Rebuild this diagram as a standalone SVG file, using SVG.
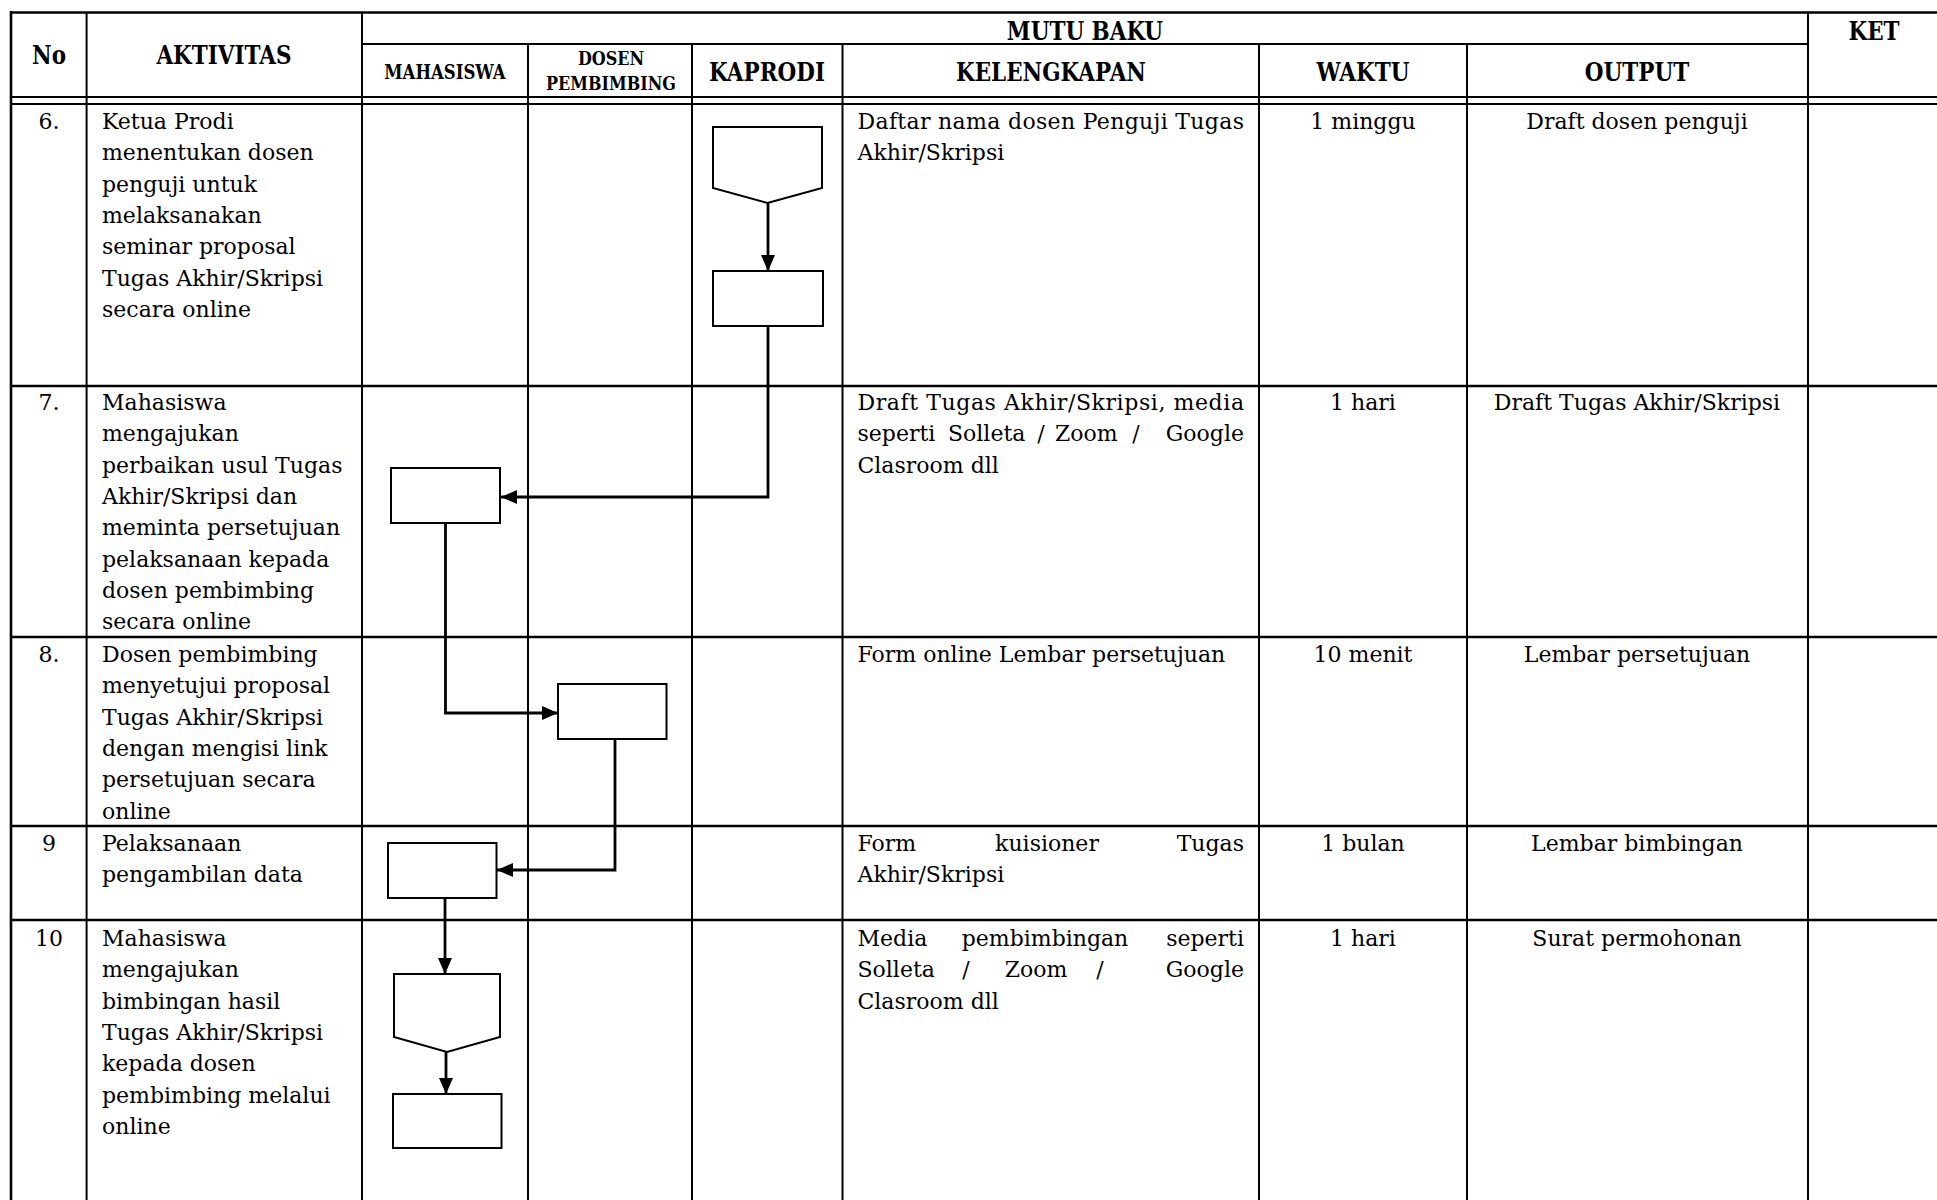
<svg xmlns="http://www.w3.org/2000/svg" width="1937" height="1200" viewBox="0 0 1937 1200">
<defs>
<style>
.bg{fill:#fff}
.ln{stroke:#000;stroke-width:2;fill:none}
.lt{stroke:#000;stroke-width:2.6;fill:none}
.sh{stroke:#000;stroke-width:2;fill:#fff}
.cn{stroke:#000;stroke-width:2.8;fill:none}
.t{font-family:"DejaVu Serif","Liberation Serif",serif;font-size:22px;fill:#000}
.m{text-anchor:middle}
.e{text-anchor:end}
.h{font-family:"DejaVu Serif","Liberation Serif",serif;font-weight:bold;font-size:21.5px;fill:#000;text-anchor:middle}
.hs{font-size:16px}
</style>
<marker id="arr" markerUnits="userSpaceOnUse" markerWidth="16" markerHeight="14" refX="16" refY="7" orient="auto">
<path d="M0,0 L16,7 L0,14 Z" fill="#000"/>
</marker>
</defs>
<rect class="bg" x="0" y="0" width="1937" height="1200"/>

<g id="grid">
<line class="lt" x1="11" y1="12.5" x2="1937" y2="12.5"/>
<line class="ln" x1="362" y1="44" x2="1808" y2="44"/>
<line class="ln" x1="11" y1="97" x2="1937" y2="97"/>
<line class="ln" x1="11" y1="104" x2="1937" y2="104"/>
<line class="lt" x1="11" y1="386" x2="1937" y2="386"/>
<line class="lt" x1="11" y1="637" x2="1937" y2="637"/>
<line class="lt" x1="11" y1="826" x2="1937" y2="826"/>
<line class="lt" x1="11" y1="920" x2="1937" y2="920"/>
<line class="lt" x1="11" y1="11" x2="11" y2="1200"/>
<line class="ln" x1="86.6" y1="12" x2="86.6" y2="1200"/>
<line class="ln" x1="362" y1="12" x2="362" y2="1200"/>
<line class="ln" x1="528" y1="44" x2="528" y2="1200"/>
<line class="ln" x1="692" y1="44" x2="692" y2="1200"/>
<line class="ln" x1="842.5" y1="44" x2="842.5" y2="1200"/>
<line class="ln" x1="1259" y1="44" x2="1259" y2="1200"/>
<line class="ln" x1="1467" y1="44" x2="1467" y2="1200"/>
<line class="ln" x1="1808" y1="12" x2="1808" y2="1200"/>
</g>

<g id="header">
<text class="h" x="1085" y="40.5" transform="matrix(1 0 0 1.2 0 -8.1)">MUTU BAKU</text>
<text class="h" x="1874" y="40.5" transform="matrix(1 0 0 1.2 0 -8.1)">KET</text>
<text class="h" x="49" y="64.5" transform="matrix(1 0 0 1.2 0 -12.9)">No</text>
<text class="h" x="224" y="64.5" transform="matrix(1 0 0 1.2 0 -12.9)">AKTIVITAS</text>
<text class="h hs" x="445" y="79" style="font-size:16.5px" transform="matrix(1 0 0 1.2 0 -15.8)">MAHASISWA</text>
<text class="h hs" x="611" y="65" transform="matrix(1 0 0 1.2 0 -13)">DOSEN</text>
<text class="h hs" x="611" y="90" transform="matrix(1 0 0 1.2 0 -18)">PEMBIMBING</text>
<text class="h" x="767" y="81" transform="matrix(1 0 0 1.2 0 -16.2)">KAPRODI</text>
<text class="h" x="1051" y="81" transform="matrix(1 0 0 1.2 0 -16.2)">KELENGKAPAN</text>
<text class="h" x="1363" y="81" transform="matrix(1 0 0 1.2 0 -16.2)">WAKTU</text>
<text class="h" x="1637" y="81" transform="matrix(1 0 0 1.2 0 -16.2)">OUTPUT</text>
</g>

<g id="row6">
<text class="t m" x="49" y="129">6.</text>
<text class="t" x="102" y="129">Ketua Prodi</text>
<text class="t" x="102" y="160.3">menentukan dosen</text>
<text class="t" x="102" y="191.6">penguji untuk</text>
<text class="t" x="102" y="222.9">melaksanakan</text>
<text class="t" x="102" y="254.2">seminar proposal</text>
<text class="t" x="102" y="285.5">Tugas Akhir/Skripsi</text>
<text class="t" x="102" y="316.8">secara online</text>
<text class="t" x="857.5" y="129" textLength="386.5" lengthAdjust="spacing">Daftar nama dosen Penguji Tugas</text>
<text class="t" x="857.5" y="160.3">Akhir/Skripsi</text>
<text class="t m" x="1363" y="129">1 minggu</text>
<text class="t m" x="1637" y="129">Draft dosen penguji</text>
</g>

<g id="row7">
<text class="t m" x="49" y="410">7.</text>
<text class="t" x="102" y="410">Mahasiswa</text>
<text class="t" x="102" y="441.3">mengajukan</text>
<text class="t" x="102" y="472.6">perbaikan usul Tugas</text>
<text class="t" x="102" y="503.9">Akhir/Skripsi dan</text>
<text class="t" x="102" y="535.2">meminta persetujuan</text>
<text class="t" x="102" y="566.5">pelaksanaan kepada</text>
<text class="t" x="102" y="597.8">dosen pembimbing</text>
<text class="t" x="102" y="629.1">secara online</text>
<text class="t" x="857.5" y="410" textLength="386.5" lengthAdjust="spacing">Draft Tugas Akhir/Skripsi, media</text>
<text class="t" x="857.5" y="441.3">seperti</text>
<text class="t" x="948" y="441.3">Solleta</text>
<text class="t m" x="1041" y="441.3">/</text>
<text class="t" x="1055" y="441.3">Zoom</text>
<text class="t m" x="1136" y="441.3">/</text>
<text class="t e" x="1244" y="441.3">Google</text>
<text class="t" x="857.5" y="472.6">Clasroom dll</text>
<text class="t m" x="1363" y="410">1 hari</text>
<text class="t m" x="1637" y="410">Draft Tugas Akhir/Skripsi</text>
</g>

<g id="row8">
<text class="t m" x="49" y="662">8.</text>
<text class="t" x="102" y="662">Dosen pembimbing</text>
<text class="t" x="102" y="693.3">menyetujui proposal</text>
<text class="t" x="102" y="724.6">Tugas Akhir/Skripsi</text>
<text class="t" x="102" y="755.9">dengan mengisi link</text>
<text class="t" x="102" y="787.2">persetujuan secara</text>
<text class="t" x="102" y="818.5">online</text>
<text class="t" x="857.5" y="662">Form online Lembar persetujuan</text>
<text class="t m" x="1363" y="662">10 menit</text>
<text class="t m" x="1637" y="662">Lembar persetujuan</text>
</g>

<g id="row9">
<text class="t m" x="49" y="851">9</text>
<text class="t" x="102" y="851">Pelaksanaan</text>
<text class="t" x="102" y="882.3">pengambilan data</text>
<text class="t" x="857.5" y="851">Form</text>
<text class="t m" x="1047" y="851">kuisioner</text>
<text class="t e" x="1244" y="851">Tugas</text>
<text class="t" x="857.5" y="882.3">Akhir/Skripsi</text>
<text class="t m" x="1363" y="851">1 bulan</text>
<text class="t m" x="1637" y="851">Lembar bimbingan</text>
</g>

<g id="row10">
<text class="t m" x="49" y="946">10</text>
<text class="t" x="102" y="946">Mahasiswa</text>
<text class="t" x="102" y="977.3">mengajukan</text>
<text class="t" x="102" y="1008.6">bimbingan hasil</text>
<text class="t" x="102" y="1039.9">Tugas Akhir/Skripsi</text>
<text class="t" x="102" y="1071.2">kepada dosen</text>
<text class="t" x="102" y="1102.5">pembimbing melalui</text>
<text class="t" x="102" y="1133.8">online</text>
<text class="t" x="857.5" y="946">Media</text>
<text class="t m" x="1045" y="946">pembimbingan</text>
<text class="t e" x="1244" y="946">seperti</text>
<text class="t" x="857.5" y="977.3">Solleta</text>
<text class="t m" x="966" y="977.3">/</text>
<text class="t m" x="1036" y="977.3">Zoom</text>
<text class="t m" x="1100" y="977.3">/</text>
<text class="t e" x="1244" y="977.3">Google</text>
<text class="t" x="857.5" y="1008.6">Clasroom dll</text>
<text class="t m" x="1363" y="946">1 hari</text>
<text class="t m" x="1637" y="946">Surat permohonan</text>
</g>

<g id="connectors">
<line class="cn" x1="768" y1="203" x2="768" y2="271" marker-end="url(#arr)"/>
<polyline class="cn" points="768,326 768,497 501,497" marker-end="url(#arr)"/>
<polyline class="cn" points="445.5,523 445.5,713 558,713" marker-end="url(#arr)"/>
<polyline class="cn" points="615,739 615,870 497,870" marker-end="url(#arr)"/>
<line class="cn" x1="445" y1="898" x2="445" y2="974" marker-end="url(#arr)"/>
<line class="cn" x1="446" y1="1052" x2="446" y2="1094" marker-end="url(#arr)"/>
</g>

<g id="node-kaprodi-offpage">
<polygon class="sh" points="713,127 822,127 822,188 767.5,203 713,188"/>
</g>
<g id="node-kaprodi-process">
<rect class="sh" x="713" y="271" width="110" height="55"/>
</g>
<g id="node-mahasiswa-process7">
<rect class="sh" x="391" y="468" width="109" height="55"/>
</g>
<g id="node-dosen-process8">
<rect class="sh" x="558" y="684" width="108.5" height="55"/>
</g>
<g id="node-mahasiswa-process9">
<rect class="sh" x="388" y="843" width="108.5" height="55"/>
</g>
<g id="node-mahasiswa-offpage10">
<polygon class="sh" points="394,974 500,974 500,1037 447,1052 394,1037"/>
</g>
<g id="node-mahasiswa-process10">
<rect class="sh" x="393" y="1094" width="108.5" height="54"/>
</g>
</svg>
